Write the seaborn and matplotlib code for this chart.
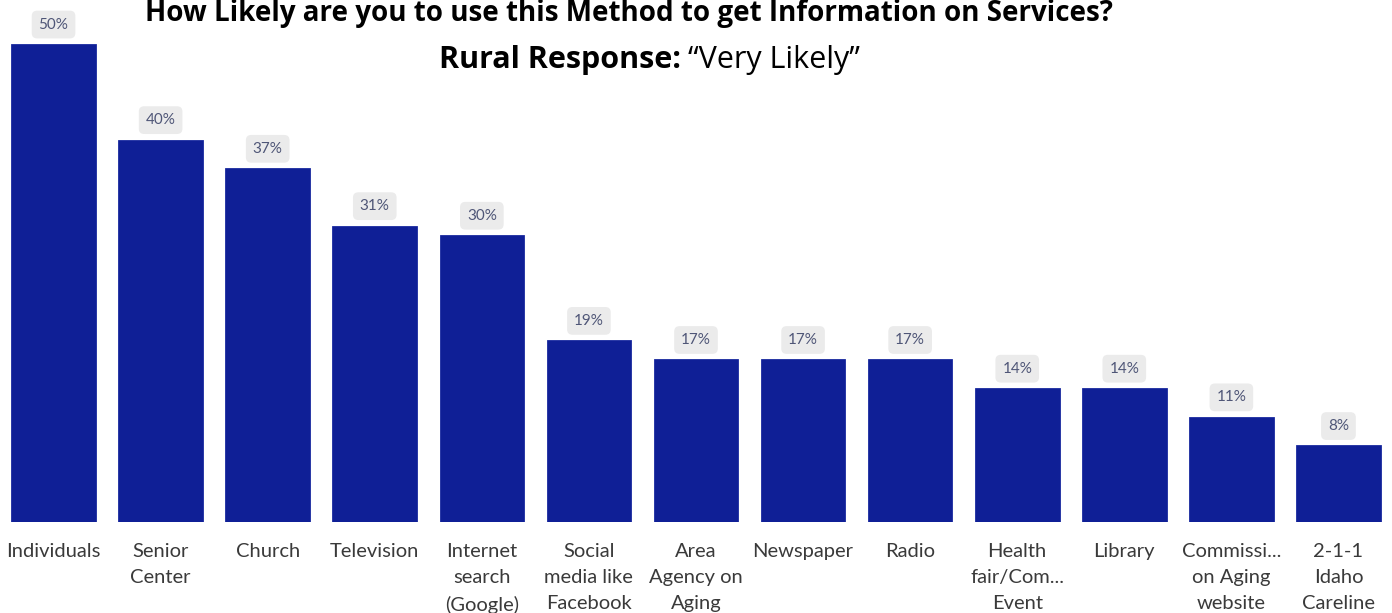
import matplotlib
matplotlib.use("Agg")
import matplotlib.pyplot as plt
import seaborn as sns
import pandas as pd

categories = [
    "Individuals", "Senior\nCenter", "Church", "Television",
    "Internet\nsearch\n(Google)", "Social\nmedia like\nFacebook",
    "Area\nAgency on\nAging", "Newspaper", "Radio",
    "Health\nfair/Com...\nEvent", "Library", "Commissi...\non Aging\nwebsite",
    "2-1-1\nIdaho\nCareline",
]
very_likely_pct = [50, 40, 37, 31, 30, 19, 17, 17, 17, 14, 14, 11, 8]

title = "How Likely are you to use this Method to get Information on Services?"
subtitle_bold = "Rural Response:"
subtitle_rest = "\u201cVery Likely\u201d"

sns.set_style("white")
plt.rcParams["font.family"] = ["Lato", "DejaVu Sans"]

df = pd.DataFrame({"method": categories, "pct": very_likely_pct})

W, H = 1392, 613
fig = plt.figure(figsize=(W / 100, H / 100), dpi=100)
ax = fig.add_axes([0.0, 0.1485, 1.0, 0.8515])

sns.barplot(data=df, x="method", y="pct", color="#0f1f96", saturation=1,
            width=0.79, edgecolor="#1a2aa0", linewidth=0.6, ax=ax)

ax.set_xlim(-0.5, len(categories) - 0.5)
ax.set_ylim(0, 54.6)
ax.set_xlabel("")
ax.set_ylabel("")
ax.set_yticks([])
sns.despine(ax=ax, left=True, bottom=True)
ax.tick_params(axis="x", length=0, pad=15.5, labelsize=14.5, labelcolor="#3a3a3a")
for lbl in ax.get_xticklabels():
    lbl.set_linespacing(1.64)

for i, v in enumerate(very_likely_pct):
    ax.annotate(f"{v}%", xy=(i, v), xytext=(0, 14), textcoords="offset points",
                ha="center", va="center", fontsize=11, color="#4f5677",
                bbox=dict(boxstyle="round,pad=0.45,rounding_size=0.35",
                          fc="#ebebeb", ec="none"))

head_font = ["Open Sans", "DejaVu Sans"]
fig.text(629 / W, 1 - 21 / H, title, ha="center", va="baseline",
         fontsize=20, fontweight="bold", family=head_font, color="black")

# subtitle: bold lead-in followed by regular quoted text, centred as one line
fig.text(681 / W, 1 - 68 / H, subtitle_bold, ha="right", va="baseline",
         fontsize=22, fontweight="bold", family=head_font, color="black")
fig.text(688 / W, 1 - 68 / H, subtitle_rest, ha="left", va="baseline",
         fontsize=22, family=head_font, color="black")

fig.savefig("out.png", dpi=100)
